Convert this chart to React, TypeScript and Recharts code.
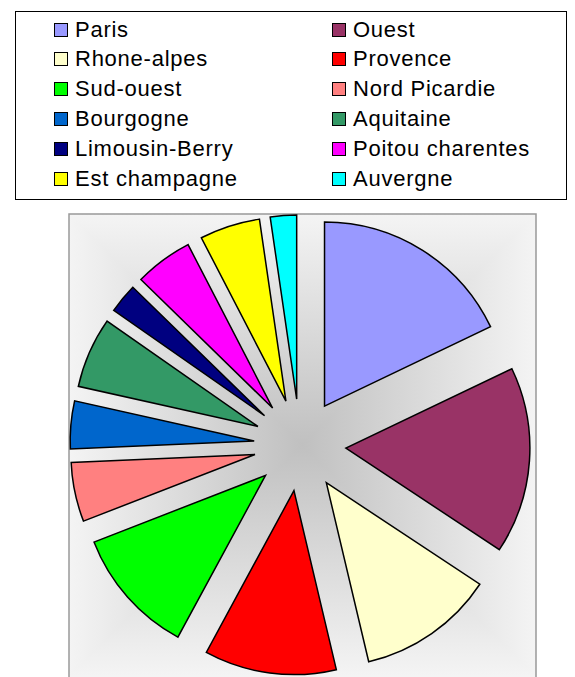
import React from "react";
import { PieChart, Pie, Cell, Legend, Sector } from "recharts";

const regions = [
  "Paris",
  "Ouest",
  "Rhone-alpes",
  "Provence",
  "Sud-ouest",
  "Nord Picardie",
  "Bourgogne",
  "Aquitaine",
  "Limousin-Berry",
  "Poitou charentes",
  "Est champagne",
  "Auvergne",
];

const shares = [17.9, 16.4, 12.0, 11.6, 11.2, 5.2, 4.2, 6.2, 2.6, 5.1, 5.3, 2.3];

const colors = [
  "#9999FF",
  "#993366",
  "#FFFFCC",
  "#FF0000",
  "#00FF00",
  "#FF8080",
  "#0066CC",
  "#339966",
  "#000080",
  "#FF00FF",
  "#FFFF00",
  "#00FFFF",
];

const data = regions.map((name, i) => ({ name, value: shares[i] }));

const EXPLODE = 46;
const RADIAN = Math.PI / 180;

// plot area (gray frame with the rectangular gradient)
const PLOT = { left: 69, top: 214, right: 536, bottom: 676 };
const CX = (PLOT.left + PLOT.right) / 2;
const CY = (PLOT.top + PLOT.bottom) / 2;

function ExplodedSlice(props: any) {
  const { cx, cy, midAngle, innerRadius, outerRadius, startAngle, endAngle, fill } = props;
  const dx = EXPLODE * Math.cos(-midAngle * RADIAN);
  const dy = EXPLODE * Math.sin(-midAngle * RADIAN);
  return (
    <Sector
      cx={cx + dx}
      cy={cy + dy}
      innerRadius={innerRadius}
      outerRadius={outerRadius}
      startAngle={startAngle}
      endAngle={endAngle}
      fill={fill}
      stroke="#000"
      strokeWidth={1.5}
    />
  );
}

function LegendBox({ payload }: any) {
  const items = (payload && payload.length ? [...payload] : regions.map((r, i) => ({ value: r, color: colors[i] })))
    .sort((a: any, b: any) => regions.indexOf(a.value) - regions.indexOf(b.value));
  return (
    <div
      style={{
        position: "relative",
        width: 552,
        height: 189,
        border: "1.5px solid #000",
        boxSizing: "border-box",
        background: "#fff",
        fontFamily: "'Liberation Sans', Arial, sans-serif",
        fontSize: 22,
        letterSpacing: 0.75,
        color: "#000",
      }}
    >
      {items.map((entry: any, i: number) => {
        const col = i % 2;
        const row = Math.floor(i / 2);
        const idx = regions.indexOf(entry.value);
        return (
          <div
            key={entry.value}
            style={{
              position: "absolute",
              left: col === 0 ? 38 : 316,
              top: 2.5 + row * 29.9,
              height: 30,
              display: "flex",
              alignItems: "center",
              whiteSpace: "nowrap",
            }}
          >
            <span
              style={{
                display: "inline-block",
                width: 12,
                height: 12,
                background: colors[idx] || entry.color,
                border: "1.5px solid #000",
                marginRight: 7,
              }}
            />
            <span>{entry.value}</span>
          </div>
        );
      })}
    </div>
  );
}

export default function App() {
  const { left: L, top: T, right: R, bottom: B } = PLOT;
  return (
    <div style={{ position: "absolute", left: 0, top: 0, width: 575, height: 677, background: "#fff" }}>
      <svg width={575} height={677} style={{ position: "absolute", left: 0, top: 0 }}>
        <defs>
          <linearGradient id="gTop" gradientUnits="userSpaceOnUse" x1={0} y1={T} x2={0} y2={CY}>
            <stop offset="0" stopColor="#f4f4f4" />
            <stop offset="1" stopColor="#c0c0c0" />
          </linearGradient>
          <linearGradient id="gBottom" gradientUnits="userSpaceOnUse" x1={0} y1={B} x2={0} y2={CY}>
            <stop offset="0" stopColor="#f4f4f4" />
            <stop offset="1" stopColor="#c0c0c0" />
          </linearGradient>
          <linearGradient id="gLeft" gradientUnits="userSpaceOnUse" x1={L} y1={0} x2={CX} y2={0}>
            <stop offset="0" stopColor="#f4f4f4" />
            <stop offset="1" stopColor="#c0c0c0" />
          </linearGradient>
          <linearGradient id="gRight" gradientUnits="userSpaceOnUse" x1={R} y1={0} x2={CX} y2={0}>
            <stop offset="0" stopColor="#f4f4f4" />
            <stop offset="1" stopColor="#c0c0c0" />
          </linearGradient>
        </defs>
        <g shapeRendering="crispEdges">
          <polygon points={`${L},${T} ${R},${T} ${CX},${CY}`} fill="url(#gTop)" />
          <polygon points={`${L},${B} ${R},${B} ${CX},${CY}`} fill="url(#gBottom)" />
          <polygon points={`${L},${T} ${L},${B} ${CX},${CY}`} fill="url(#gLeft)" />
          <polygon points={`${R},${T} ${R},${B} ${CX},${CY}`} fill="url(#gRight)" />
          <rect x={L} y={B} width={R - L} height={20} fill="#f4f4f4" />
        </g>
        <rect x={L} y={T} width={R - L} height={B - T + 20} fill="none" stroke="#999" strokeWidth={1.5} />
      </svg>
      <div style={{ position: "absolute", left: 0, top: 0 }}>
        <PieChart width={575} height={677} margin={{ top: 0, right: 0, bottom: 0, left: 0 }}>
          <Pie
            data={data}
            dataKey="value"
            nameKey="name"
            cx={300}
            cy={445}
            innerRadius={0}
            outerRadius={184}
            startAngle={90}
            endAngle={-270}
            stroke="#000"
            strokeWidth={1.5}
            shape={ExplodedSlice}
            activeShape={ExplodedSlice}
            inactiveShape={ExplodedSlice}
            isAnimationActive={false}
          >
            {data.map((d, i) => (
              <Cell key={d.name} fill={colors[i]} />
            ))}
          </Pie>
          <Legend
            layout="horizontal"
            verticalAlign="middle"
            align="center"
            content={<LegendBox />}
            wrapperStyle={{ position: "absolute", left: 15, top: 11, width: 552, height: 189 }}
          />
        </PieChart>
      </div>
    </div>
  );
}
